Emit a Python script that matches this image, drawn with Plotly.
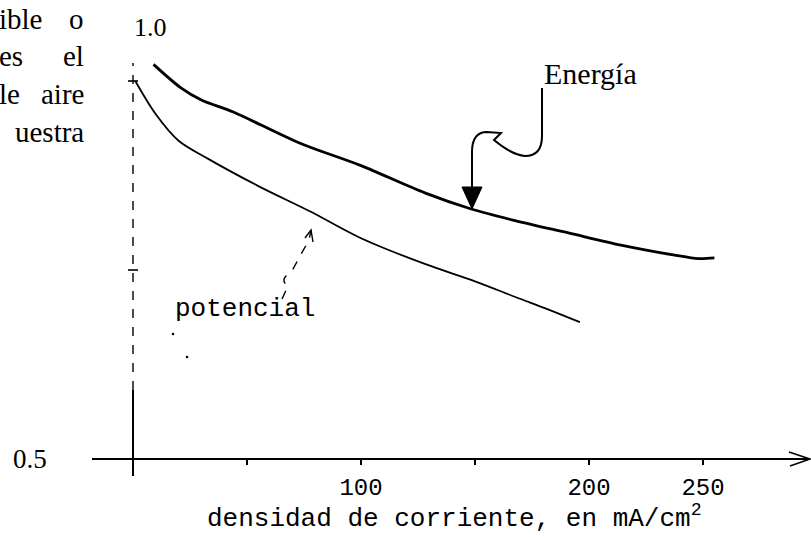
import plotly.graph_objects as go

# ---- data ----
energia_x = [9, 21, 30, 44, 73, 100, 128, 148, 168, 191, 214, 237, 248, 255]
energia_y = [1.022, 0.991, 0.975, 0.959, 0.918, 0.888, 0.852, 0.831, 0.815, 0.799, 0.783, 0.770, 0.765, 0.766]

potencial_x = [1, 10, 20, 33, 55, 78, 100, 128, 150, 168, 182, 196]
potencial_y = [1.0, 0.956, 0.921, 0.897, 0.861, 0.827, 0.792, 0.758, 0.735, 0.714, 0.698, 0.681]

x_tickvals = [100, 200, 250]
x_ticktext = ["100", "200", "250"]
x_minor_tickvals = [50, 150]
y_tickvals = [0.75, 1.0]

W, H = 811, 537
X0_PX, X_SCALE = 133, 2.28     # pixel of x=0, px per unit
Y05_PX, Y_SCALE = 459, 756     # pixel of y=0.5, px per unit

xr = [-X0_PX / X_SCALE, (W - X0_PX) / X_SCALE]
yr = [0.5 - (H - Y05_PX) / Y_SCALE, 0.5 + Y05_PX / Y_SCALE]

def dx(px):
    return (px - X0_PX) / X_SCALE

def dy(py):
    return 0.5 + (Y05_PX - py) / Y_SCALE

SERIF = "Liberation Serif"
MONO = "Liberation Mono"

fig = go.Figure()
fig.add_trace(go.Scatter(x=energia_x, y=energia_y, mode="lines",
                         line=dict(color="black", width=2.8, shape="spline", smoothing=0.9),
                         name="Energía", showlegend=False, hoverinfo="skip"))
fig.add_trace(go.Scatter(x=potencial_x, y=potencial_y, mode="lines",
                         line=dict(color="black", width=1.8, shape="spline", smoothing=0.9),
                         name="potencial", showlegend=False, hoverinfo="skip"))

shapes = []
# x axis line
shapes.append(dict(type="line", x0=dx(92), x1=dx(809), y0=0.5, y1=0.5,
                   line=dict(color="black", width=2)))
# open arrowhead at end of x axis
shapes.append(dict(type="path",
                   path=f"M {dx(789)},{dy(452)} L {dx(810)},{dy(459)} L {dx(790)},{dy(466)}",
                   line=dict(color="black", width=1.6)))
# y axis: solid lower part, broken upper part
shapes.append(dict(type="line", x0=0, x1=0, y0=dy(476), y1=dy(390),
                   line=dict(color="black", width=2)))
shapes.append(dict(type="line", x0=0, x1=0, y0=dy(390), y1=dy(63),
                   line=dict(color="black", width=1.4, dash="dash")))
# y tick marks
for v in y_tickvals:
    shapes.append(dict(type="line", x0=dx(128), x1=dx(138), y0=v, y1=v,
                       line=dict(color="black", width=1.6)))
# squiggly arrow from "Energía" label
shapes.append(dict(type="path",
                   path=(f"M {dx(542)},{dy(88)} L {dx(542)},{dy(136)} "
                         f"Q {dx(542)},{dy(156)} {dx(525)},{dy(156)} "
                         f"Q {dx(512)},{dy(155)} {dx(494)},{dy(140)} "
                         f"L {dx(501)},{dy(133)} "
                         f"L {dx(487)},{dy(132)} "
                         f"Q {dx(472)},{dy(132)} {dx(472)},{dy(152)} "
                         f"L {dx(472)},{dy(190)}"),
                   line=dict(color="black", width=2)))
shapes.append(dict(type="path",
                   path=f"M {dx(462)},{dy(187)} L {dx(482)},{dy(187)} L {dx(472)},{dy(209)} Z",
                   fillcolor="black", line=dict(color="black", width=1)))
# dashed arrow to the potencial curve
shapes.append(dict(type="path",
                   path=(f"M {dx(282)},{dy(299)} L {dx(288)},{dy(286)} "
                         f"Q {dx(281)},{dy(281)} {dx(286)},{dy(276)} "
                         f"L {dx(292)},{dy(271)} L {dx(300)},{dy(256)} "
                         f"L {dx(309)},{dy(240)} L {dx(311)},{dy(230)}"),
                   line=dict(color="black", width=1.4, dash="dash")))
shapes.append(dict(type="path",
                   path=f"M {dx(305)},{dy(238)} L {dx(311)},{dy(230)} L {dx(313)},{dy(242)}",
                   line=dict(color="black", width=1.4)))
# specks from the scan
for (px, py) in [(173, 334), (187, 357)]:
    shapes.append(dict(type="circle", x0=dx(px - 1.3), x1=dx(px + 1.3), y0=dy(py - 1.3), y1=dy(py + 1.3),
                       fillcolor="black", line=dict(width=0)))

annotations = []
def txt(text, px, py, font, size, xanchor="center", yanchor="middle"):
    # positions given in page pixels, converted to paper fractions
    annotations.append(dict(text=text, x=px / W, y=1 - py / H, xref="paper", yref="paper",
                            showarrow=False, xanchor=xanchor, yanchor=yanchor,
                            font=dict(family=font, size=size, color="black")))

txt("Energía", 590, 73, SERIF, 30)
txt("potencial", 245, 309, MONO, 26)
txt("1.0", 132, 27, SERIF, 26, xanchor="left")
txt("0.5", 30, 459, SERIF, 27)
txt("densidad de corriente, en mA/cm<sup>2</sup>", 205, 536, MONO, 26,
    xanchor="left", yanchor="bottom")

# fragments of the surrounding page text (cut at the left edge)
left_lines = [("ible", "o", 19), ("es", "el", 56), ("le", "aire", 94), (None, "uestra", 132)]
for first, last, py in left_lines:
    if first:
        txt(first, -3, py, SERIF, 29, xanchor="left")
    txt(last, 86, py, SERIF, 29, xanchor="right")

fig.update_layout(
    width=W, height=H,
    margin=dict(l=0, r=0, t=0, b=0),
    paper_bgcolor="white", plot_bgcolor="white",
    showlegend=False,
    shapes=shapes, annotations=annotations,
    xaxis=dict(range=xr, domain=[0, 1], anchor="free", position=(H - Y05_PX) / H,
               showgrid=False, zeroline=False, showline=False,
               ticks="outside", ticklen=5, tickwidth=1.6, tickcolor="black",
               tickvals=x_tickvals, ticktext=x_ticktext,
               minor=dict(tickvals=x_minor_tickvals, ticks="outside", ticklen=5,
                          tickwidth=1.6, tickcolor="black", showgrid=False),
               tickfont=dict(family=MONO, size=24, color="black"),
               ticklabelstandoff=1,
               automargin=False, fixedrange=True),
    yaxis=dict(range=yr, visible=False, showgrid=False, zeroline=False, fixedrange=True),
)

fig.write_html("out.html", config={"displayModeBar": False},
               post_script="document.body.style.margin='0';")
